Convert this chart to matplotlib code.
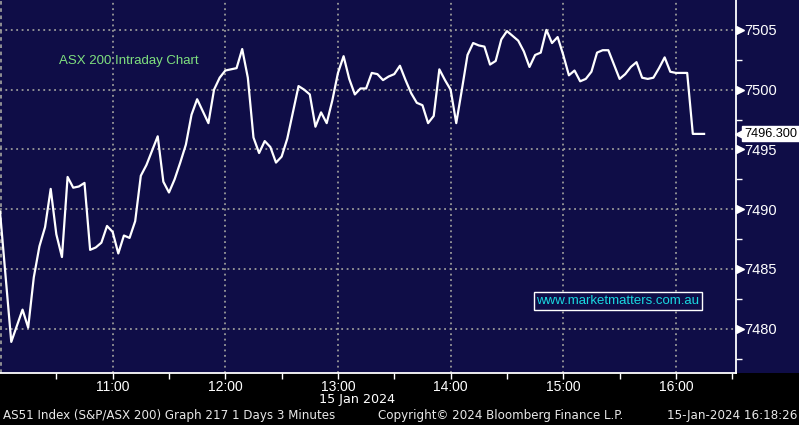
import matplotlib.pyplot as plt
import matplotlib.transforms as mtransforms
from matplotlib.patches import Rectangle

# ASX 200 intraday, 3 minute bars
times = ["10:00", "10:06", "10:12", "10:15", "10:18", "10:21", "10:24", "10:27", "10:30", "10:33",
         "10:36", "10:39", "10:42", "10:45", "10:48", "10:51", "10:54", "10:57", "11:00", "11:03",
         "11:06", "11:09", "11:12", "11:15", "11:18", "11:21", "11:24", "11:27", "11:30", "11:33",
         "11:36", "11:39", "11:42", "11:45", "11:48", "11:51", "11:54", "11:57", "12:00", "12:03",
         "12:06", "12:09", "12:12", "12:15", "12:18", "12:21", "12:24", "12:27", "12:30", "12:33",
         "12:36", "12:39", "12:42", "12:45", "12:48", "12:51", "12:54", "12:57", "13:00", "13:03",
         "13:06", "13:09", "13:12", "13:15", "13:18", "13:21", "13:24", "13:27", "13:30", "13:33",
         "13:36", "13:39", "13:42", "13:45", "13:48", "13:51", "13:54", "13:57", "14:00", "14:03",
         "14:06", "14:09", "14:12", "14:15", "14:18", "14:21", "14:24", "14:27", "14:30", "14:33",
         "14:36", "14:39", "14:42", "14:45", "14:48", "14:51", "14:54", "14:57", "15:00", "15:03",
         "15:06", "15:09", "15:12", "15:15", "15:18", "15:21", "15:24", "15:27", "15:30", "15:33",
         "15:36", "15:39", "15:42", "15:45", "15:48", "15:51", "15:54", "15:57", "16:00", "16:03",
         "16:06", "16:09", "16:12", "16:15"]
prices = [7489.8, 7478.9, 7481.6, 7480.1, 7484.3, 7486.9, 7488.5, 7491.7, 7487.9, 7486.0,
          7492.7, 7491.8, 7491.9, 7492.2, 7486.6, 7486.8, 7487.2, 7488.6, 7488.1, 7486.3,
          7487.8, 7487.6, 7489.0, 7492.8, 7493.7, 7494.9, 7496.1, 7492.3, 7491.4, 7492.5,
          7493.9, 7495.4, 7497.9, 7499.2, 7498.2, 7497.2, 7500.0, 7501.0, 7501.6, 7501.7,
          7501.8, 7503.4, 7501.0, 7496.0, 7494.7, 7495.7, 7495.2, 7493.9, 7494.4, 7495.9,
          7498.1, 7500.3, 7500.0, 7499.6, 7496.9, 7498.1, 7497.2, 7499.1, 7501.4, 7502.8,
          7500.9, 7499.6, 7500.1, 7500.1, 7501.4, 7501.3, 7500.8, 7501.1, 7501.3, 7502.0,
          7500.8, 7499.7, 7498.9, 7498.7, 7497.2, 7497.8, 7501.7, 7500.8, 7500.0, 7497.2,
          7500.0, 7502.9, 7503.9, 7503.7, 7503.6, 7502.1, 7502.4, 7504.2, 7504.9, 7504.5,
          7504.1, 7503.2, 7501.9, 7502.9, 7503.1, 7505.0, 7503.9, 7504.4, 7502.9, 7501.2,
          7501.6, 7500.7, 7500.9, 7501.5, 7503.1, 7503.3, 7503.3, 7502.1, 7500.9, 7501.3,
          7501.9, 7502.3, 7501.0, 7500.9, 7501.0, 7501.8, 7502.7, 7501.5, 7501.4, 7501.4,
          7501.4, 7496.3, 7496.3, 7496.3]
last_price = 7496.3
hour_labels = ["11:00", "12:00", "13:00", "14:00", "15:00", "16:00"]
y_ticks = [7480, 7485, 7490, 7495, 7500, 7505]


def to_minutes(t):
    h, m = t.split(":")
    return (int(h) - 10) * 60 + int(m)


navy = "#0f0d47"
grid_col = "#9a9a9a"
W, H = 799, 425

fig = plt.figure(figsize=(W / 100, H / 100), dpi=100)
fig.patch.set_facecolor("black")
bottom = 52 / H
fig.add_artist(Rectangle((0, bottom), 1, 1 - bottom, transform=fig.transFigure,
                         facecolor=navy, edgecolor="none", zorder=0))
ax = fig.add_axes([0, bottom, 736 / W, 1 - bottom])
ax.set_facecolor(navy)

x = [to_minutes(t) for t in times]
ax.plot(x, prices, color="white", lw=1.6, zorder=3)

ax.set_xlim(0, 392)
ax.set_ylim(7476.3, 7507.5)

# grid
for h in hour_labels:
    ax.axvline(to_minutes(h), color=grid_col, lw=1.3, ls=(0, (1, 2)), zorder=1)
for v in y_ticks:
    ax.axhline(v, color=grid_col, lw=1.3, ls=(0, (1, 2)), zorder=1)
ax.axvline(0.3, color=grid_col, lw=1.3, ls=(0, (2, 2)), zorder=1)

# spines
for s in ["top", "left"]:
    ax.spines[s].set_visible(False)
for s in ["bottom", "right"]:
    ax.spines[s].set_color("white")
    ax.spines[s].set_linewidth(1.3)

# x ticks
ax.set_xticks([to_minutes(h) for h in hour_labels])
ax.set_xticklabels(hour_labels)
ax.set_xticks([30 * k for k in range(1, 14)], minor=True)
ax.tick_params(axis="x", which="both", colors="white", direction="out", length=4, width=1,
               labelsize=10, pad=1)

# y ticks on the right
ax.yaxis.tick_right()
ax.set_yticks(y_ticks)
ax.set_yticklabels([str(v) for v in y_ticks])
ax.set_yticks([7477.5 + 5 * k for k in range(6)], minor=True)
ax.tick_params(axis="y", which="major", colors="white", length=0, pad=6, labelsize=10.5)
ax.tick_params(axis="y", which="minor", colors="white", direction="out", length=4, width=1)
for lbl in ax.get_xticklabels() + ax.get_yticklabels():
    lbl.set_family("Liberation Sans")

shift = mtransforms.ScaledTranslation(4 / 100, 0, fig.dpi_scale_trans)
ax.plot([1.0] * len(y_ticks), y_ticks, ls="none", marker=">", ms=6, color="white",
        transform=ax.get_yaxis_transform() + shift, clip_on=False, zorder=4)

# last price tag
shift2 = mtransforms.ScaledTranslation(5 / 100, 0, fig.dpi_scale_trans)
ax.plot([1.0], [last_price], ls="none", marker="<", ms=9, color="white",
        transform=ax.get_yaxis_transform() + shift2, clip_on=False, zorder=4)
shift3 = mtransforms.ScaledTranslation(8 / 100, 0, fig.dpi_scale_trans)
ax.text(1.0, last_price, f"{last_price:.3f}", transform=ax.get_yaxis_transform() + shift3,
        ha="left", va="center", fontsize=9.2, family="Liberation Sans", color="black",
        bbox=dict(boxstyle="square,pad=0.12", fc="white", ec="white"), zorder=5)

# annotations
fig.text(59 / W, 1 - 61 / H, "ASX 200 Intraday Chart", fontsize=9.5, color="#7fe07f",
         family="Liberation Sans", va="center", ha="left")
fig.text(618 / W, 1 - 301 / H, "www.marketmatters.com.au", color="#19d8e0", fontsize=9.5,
         family="Liberation Sans", ha="center", va="center",
         bbox=dict(boxstyle="square,pad=0.2", fc=navy, ec="white", lw=1))

# footer
fig.text(357 / W, 1 - 399 / H, "15 Jan 2024", color="white", fontsize=9.2,
         family="DejaVu Sans", ha="center", va="center")
fig.text(3 / W, 1 - 415 / H, "AS51 Index (S&P/ASX 200) Graph 217 1 Days 3 Minutes",
         color="#e8e8e8", fontsize=8.6, family="DejaVu Sans", ha="left", va="center")
fig.text(378 / W, 1 - 415 / H, "Copyright\u00a9 2024 Bloomberg Finance L.P.",
         color="#e8e8e8", fontsize=8.6, family="DejaVu Sans", ha="left", va="center")
fig.text(797 / W, 1 - 415 / H, "15-Jan-2024 16:18:26", color="#e8e8e8", fontsize=8.6,
         family="DejaVu Sans", ha="right", va="center")

fig.savefig("out.png", dpi=100, facecolor=fig.get_facecolor())
